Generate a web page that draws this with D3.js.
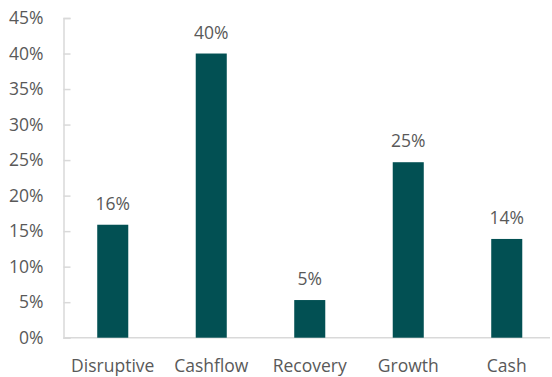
<!DOCTYPE html>
<html lang="en">
<head>
    <meta charset="UTF-8">
    <title>Allocation</title>
    <script src="https://d3js.org/d3.v7.min.js"></script>
    <style>
        body { margin: 0; background: #fff; }
        text { font-family: "Open Sans", Lato, sans-serif; fill: #595959; }
    </style>
</head>
<body>
    <script>
        // Data
        const categories = ["Disruptive", "Cashflow", "Recovery", "Growth", "Cash"];
        const values = [0.159, 0.40, 0.053, 0.247, 0.139];
        const valueLabels = ["16%", "40%", "5%", "25%", "14%"];
        const yTicks = [0, 0.05, 0.10, 0.15, 0.20, 0.25, 0.30, 0.35, 0.40, 0.45];

        const W = 552, H = 377;
        const plot = { left: 63.5, right: 556, top: 18, bottom: 337.7 };
        const fontSize = "17.5px";

        const svg = d3.select("body").append("svg")
            .attr("width", W)
            .attr("height", H);

        const x = d3.scaleBand()
            .domain(categories)
            .range([plot.left, plot.right])
            .paddingInner(0.685)
            .paddingOuter(0.3425);

        const y = d3.scaleLinear()
            .domain([0, 0.45])
            .range([plot.bottom, plot.top]);

        // Y axis
        const yAxis = svg.append("g")
            .attr("transform", `translate(${plot.left},0)`)
            .call(d3.axisLeft(y).tickValues(yTicks).tickFormat(d3.format(".0%")).tickSize(-7).tickPadding(20));
        yAxis.select(".domain").attr("stroke", "#d9d9d9").attr("stroke-width", 1.5);
        yAxis.selectAll(".tick line").attr("stroke", "#d9d9d9").attr("stroke-width", 1.5);
        yAxis.selectAll(".tick text").style("font-size", fontSize).style("fill", "#595959")
            .style("font-family", "'Open Sans', Lato, sans-serif");

        // X baseline
        svg.append("line")
            .attr("x1", plot.left).attr("x2", 550)
            .attr("y1", y(0)).attr("y2", y(0))
            .attr("stroke", "#d9d9d9").attr("stroke-width", 1.5);

        // Bars
        svg.selectAll(".bar")
            .data(values)
            .enter()
            .append("rect")
            .attr("class", "bar")
            .attr("x", (d, i) => x(categories[i]))
            .attr("y", d => y(d))
            .attr("width", x.bandwidth())
            .attr("height", d => y(0) - y(d))
            .attr("fill", "#025053");

        // Value labels
        svg.selectAll(".val")
            .data(values)
            .enter()
            .append("text")
            .attr("class", "val")
            .attr("x", (d, i) => x(categories[i]) + x.bandwidth() / 2)
            .attr("y", d => y(d) - 15)
            .attr("text-anchor", "middle")
            .style("font-size", fontSize)
            .text((d, i) => valueLabels[i]);

        // Category labels
        svg.selectAll(".cat")
            .data(categories)
            .enter()
            .append("text")
            .attr("class", "cat")
            .attr("x", d => x(d) + x.bandwidth() / 2)
            .attr("y", 372)
            .attr("text-anchor", "middle")
            .style("font-size", fontSize)
            .text(d => d);
    </script>
</body>
</html>
